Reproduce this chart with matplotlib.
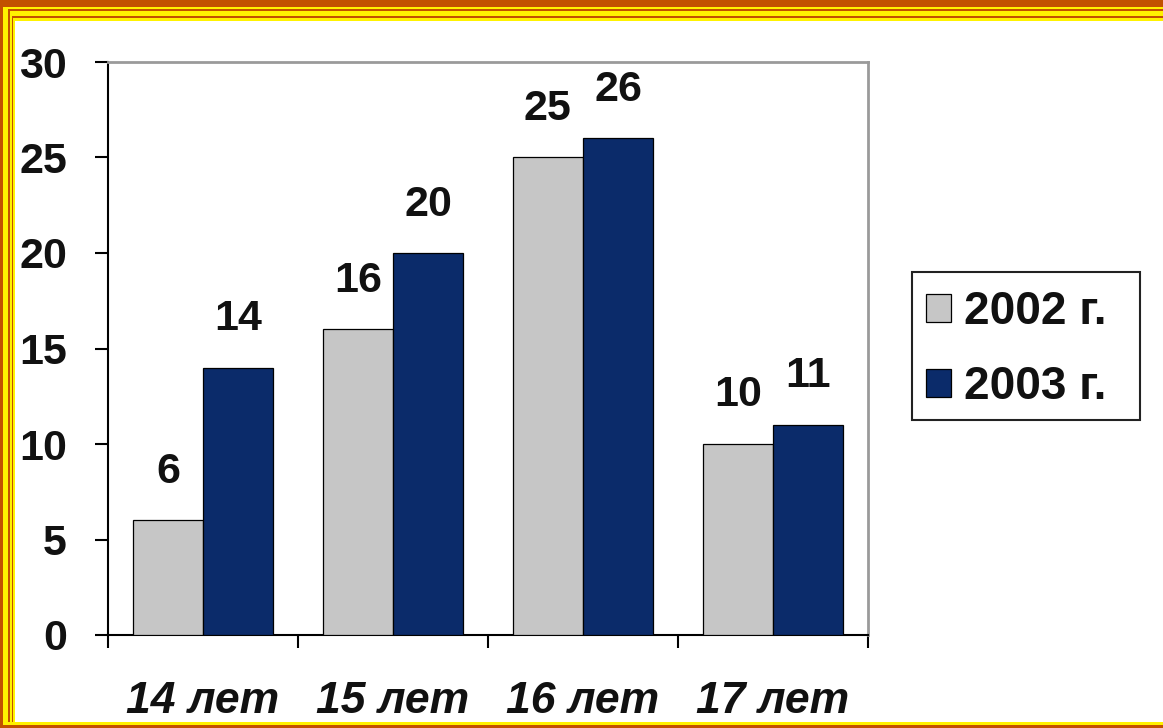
import numpy as np
import matplotlib
matplotlib.use("Agg")
import matplotlib.pyplot as plt
from matplotlib.patches import Rectangle

# ---- data ----
categories = ['14 лет', '15 лет', '16 лет', '17 лет']
series_names = ['2002 г.', '2003 г.']
values_2002 = [6, 16, 25, 10]
values_2003 = [14, 20, 26, 11]
y_ticks = [0, 5, 10, 15, 20, 25, 30]

# ---- style ----
W, H = 1163, 728
FS = 31
LFS = 33
TXT = '#111111'
GRAY = '#c6c6c6'
NAVY = '#0b2b6a'
BROWN = '#c25100'
YELLOW = '#fff200'
plt.rcParams['font.family'] = ['Liberation Sans', 'DejaVu Sans']
plt.rcParams['font.weight'] = 'bold'

fig = plt.figure(figsize=(W / 100, H / 100), dpi=100)
fig.patch.set_facecolor('white')


def band(x0, y0, x1, y1, color, fill=True, lw=0, z=-5):
    r = Rectangle((x0 / W, 1 - y1 / H), (x1 - x0) / W, (y1 - y0) / H,
                  transform=fig.transFigure,
                  facecolor=color if fill else 'none',
                  edgecolor='none' if fill else color, linewidth=lw,
                  zorder=z)
    fig.add_artist(r)


# decorative frame (nested bands)
band(0, 0, W, H, BROWN)
band(3, 7, W, 725, YELLOW)
band(8, 9, W, 722, BROWN)
band(10, 11, W, 722, YELLOW)
band(12, 16, W, 722, BROWN)
band(13, 17.5, W, 722, YELLOW)
band(15, 21, W, 722, 'white')

ax = fig.add_axes([108 / W, 1 - 635 / H, (868 - 108) / W, (635 - 62) / H])
ax.set_facecolor('white')

x = np.arange(len(categories))
w = 0.37
b1 = ax.bar(x - w / 2, values_2002, width=w, color=GRAY, edgecolor='black',
            linewidth=0.9, label=series_names[0], zorder=3)
b2 = ax.bar(x + w / 2, values_2003, width=w, color=NAVY, edgecolor='black',
            linewidth=0.9, label=series_names[1], zorder=3)

for bars, vals in ((b1, values_2002), (b2, values_2003)):
    for r, v in zip(bars, vals):
        ax.annotate(f'{v}', (r.get_x() + r.get_width() / 2, v),
                    xytext=(0, 27), textcoords='offset points',
                    ha='center', va='baseline', fontsize=FS,
                    fontweight='bold', color=TXT)

ax.set_xlim(-0.5, len(categories) - 0.5)
ax.set_ylim(0, 30)
ax.set_yticks(y_ticks)
ax.set_yticklabels([str(t) for t in y_ticks], fontsize=FS, fontweight='bold',
                   color=TXT)
ax.tick_params(axis='y', direction='out', length=9.5, width=1.5, pad=20,
               color='black')

ax.set_xticks(x)
ax.set_xticklabels(categories, fontsize=FS + 1, fontweight='bold',
                   fontstyle='italic', color=TXT)
ax.tick_params(axis='x', which='major', length=0, pad=33)
ax.set_xticks(np.arange(-0.5, len(categories), 1.0), minor=True)
ax.tick_params(axis='x', which='minor', direction='out', length=9, width=1.5,
               color='black')

for s in ('left', 'bottom'):
    ax.spines[s].set_color('black')
    ax.spines[s].set_linewidth(1.5)
for s in ('top', 'right'):
    ax.spines[s].set_color('#9a9a9a')
    ax.spines[s].set_linewidth(2)

# legend box
band(912, 272, 1140, 420, '#222222', fill=False, lw=1.5, z=5)
leg = fig.legend(handles=[b1, b2], labels=series_names, loc='upper left',
                 bbox_to_anchor=(926 / W, 1 - 290 / H), borderaxespad=0,
                 prop={'weight': 'bold', 'size': LFS},
                 frameon=False, borderpad=0,
                 handlelength=0.55, handleheight=0.55,
                 handletextpad=0.27, labelspacing=0.68)
for t in leg.get_texts():
    t.set_color(TXT)

fig.savefig('out.png', dpi=100, facecolor='white')
